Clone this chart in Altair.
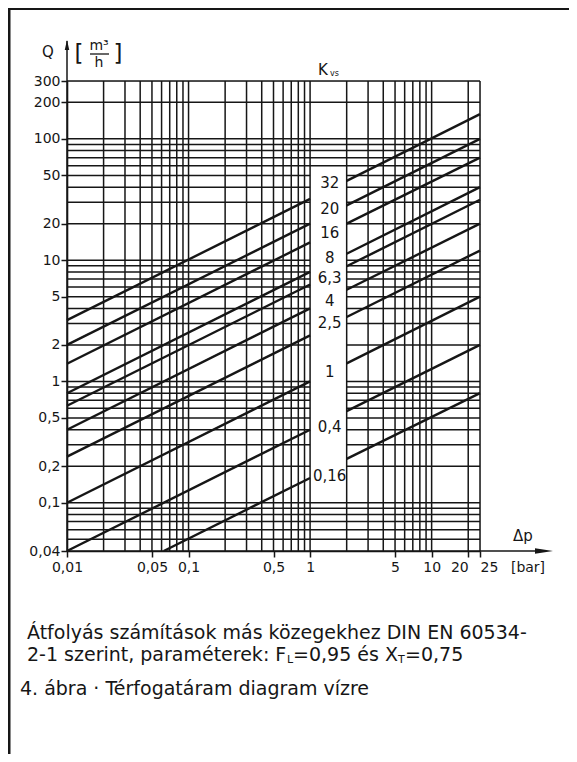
import altair as alt
import pandas as pd

FONT = "DejaVu Sans"
INK = "#161616"

# ---- data ----
kvs_labels = ["32", "20", "16", "8", "6,3", "4", "2,5", "1", "0,4", "0,16"]
dp_left_start = [0.01, 0.01, 0.01, 0.01, 0.01, 0.01, 0.01, 0.01, 0.01, 0.0625]
q_left_start = [3.2, 2.0, 1.4, 0.8, 0.63, 0.4, 0.24, 0.1, 0.04, 0.04]
dp_left_end = [1, 1, 1, 1, 1, 1, 1, 1, 1, 1]
q_left_end = [32, 20, 14, 8, 6.3, 4, 2.4, 1, 0.4, 0.16]
dp_right_start = [2, 2, 2, 2, 2, 2, 2, 2, 2, 2]
q_right_start = [45, 28.3, 20, 11.3, 8.9, 5.7, 3.4, 1.41, 0.57, 0.23]
dp_right_end = [25, 25, 25, 25, 25, 25, 25, 25, 25, 25]
q_right_end = [160, 100, 70, 40, 31.5, 20, 12, 5, 2, 0.8]
label_dp = [1.45] * 10
label_q = [43.3, 26.4, 16.7, 10.4, 7.1, 4.6, 3.03, 1.2, 0.42, 0.166]

x_grid = [0.01, 0.02, 0.03, 0.04, 0.05, 0.06, 0.07, 0.08, 0.09,
          0.1, 0.2, 0.3, 0.4, 0.5, 0.6, 0.7, 0.8, 0.9,
          1, 2, 3, 4, 5, 6, 7, 8, 9, 10, 20, 25]
y_grid = [0.04, 0.05, 0.06, 0.07, 0.08, 0.09,
          0.1, 0.2, 0.3, 0.4, 0.5, 0.6, 0.7, 0.8, 0.9,
          1, 2, 3, 4, 5, 6, 7, 8, 9,
          10, 20, 30, 40, 50, 60, 70, 80, 90,
          100, 200, 300]
x_ticks = [0.01, 0.05, 0.1, 0.5, 1, 5, 10, 20, 25]
y_ticks = [0.04, 0.1, 0.2, 0.5, 1, 2, 5, 10, 20, 50, 100, 200, 300]
x_domain = [0.01, 25]
y_domain = [0.04, 300]
band_dp = [1, 2]          # blank label band between these pressures
band_q = [0.1, 60]        # ... and between these flows (exclusive)

# ---- tables ----
rows = []
for i, k in enumerate(kvs_labels):
    rows.append({"k": k, "seg": k + "a", "o": 0, "dp": dp_left_start[i], "q": q_left_start[i]})
    rows.append({"k": k, "seg": k + "a", "o": 1, "dp": dp_left_end[i], "q": q_left_end[i]})
    rows.append({"k": k, "seg": k + "b", "o": 0, "dp": dp_right_start[i], "q": q_right_start[i]})
    rows.append({"k": k, "seg": k + "b", "o": 1, "dp": dp_right_end[i], "q": q_right_end[i]})
lines_df = pd.DataFrame(rows)

h_rows = []
for q in y_grid:
    if band_q[0] < q < band_q[1]:
        h_rows.append({"q": q, "x1": x_domain[0], "x2": band_dp[0]})
        h_rows.append({"q": q, "x1": band_dp[1], "x2": x_domain[1]})
    else:
        h_rows.append({"q": q, "x1": x_domain[0], "x2": x_domain[1]})
h_df = pd.DataFrame(h_rows)
v_df = pd.DataFrame({"dp": x_grid, "y1": [y_domain[0]] * len(x_grid), "y2": [y_domain[1]] * len(x_grid)})
lab_df = pd.DataFrame({"dp": label_dp, "q": label_q, "t": kvs_labels})

xs = alt.Scale(type="log", domain=x_domain, nice=False, zero=False)
ys = alt.Scale(type="log", domain=y_domain, nice=False, zero=False)

x_axis = alt.Axis(values=x_ticks, format="~g", labelExpr="replace(datum.label, '.', ',')",
                  grid=False, domain=True, domainColor=INK, domainWidth=1.6,
                  ticks=True, tickSize=6, tickColor=INK, tickWidth=1.5,
                  labelFont=FONT, labelFontSize=14, labelColor=INK, labelPadding=3,
                  labelFlush=False, labelOverlap=False, title=None,
                  labelAlign={"condition": [{"test": "datum.value == 20", "value": "right"},
                                            {"test": "datum.value == 25", "value": "left"}],
                              "value": "center"})
y_axis = alt.Axis(values=y_ticks, format="~g", labelExpr="replace(datum.label, '.', ',')",
                  grid=False, domain=True, domainColor=INK, domainWidth=1.6,
                  ticks=True, tickSize=6, tickColor=INK, tickWidth=1.5,
                  labelFont=FONT, labelFontSize=14, labelColor=INK, labelPadding=1,
                  labelFlush=False, labelOverlap=False, title=None)

hgrid = alt.Chart(h_df).mark_rule(color=INK, strokeWidth=1.5).encode(
    x=alt.X("x1:Q", scale=xs, axis=x_axis), x2="x2:Q",
    y=alt.Y("q:Q", scale=ys, axis=y_axis))
vgrid = alt.Chart(v_df).mark_rule(color=INK, strokeWidth=1.5).encode(
    x=alt.X("dp:Q", scale=xs, axis=x_axis),
    y=alt.Y("y1:Q", scale=ys, axis=y_axis), y2="y2:Q")
klines = alt.Chart(lines_df).mark_line(color=INK, strokeWidth=2.4).encode(
    x=alt.X("dp:Q", scale=xs, axis=x_axis),
    y=alt.Y("q:Q", scale=ys, axis=y_axis),
    detail="seg:N", order="o:Q")
klabels = alt.Chart(lab_df).mark_text(font=FONT, fontSize=15, color=INK).encode(
    x=alt.X("dp:Q", scale=xs, axis=x_axis),
    y=alt.Y("q:Q", scale=ys, axis=y_axis), text="t:N")

one = pd.DataFrame({"a": [0]})


def txt(s, x, y, size=14, align="center", baseline="middle"):
    return alt.Chart(one).mark_text(text=s, fontSize=size, align=align, baseline=baseline,
                                    font=FONT, color=INK).encode(x=alt.value(x), y=alt.value(y))


def rule(x, y, x2=None, y2=None, w=1.5):
    enc = {"x": alt.value(x), "y": alt.value(y)}
    if x2 is not None:
        enc["x2"] = alt.value(x2)
    if y2 is not None:
        enc["y2"] = alt.value(y2)
    return alt.Chart(one).mark_rule(color=INK, strokeWidth=w).encode(**enc)


def arrow(x, y, path, size):
    return alt.Chart(one).mark_point(shape=path, filled=True, color=INK, opacity=1,
                                     size=size, strokeWidth=0).encode(x=alt.value(x), y=alt.value(y))


FS = 19
deco = [
    rule(0, 0, y2=-40),                                  # Q-axis extension
    arrow(0, -36, "M0,-1L0.45,1L-0.45,1Z", 100),
    rule(413, 470, x2=478),                              # Δp-axis extension
    arrow(477, 470, "M1,0L-1,-0.3L-1,0.3Z", 324),
    txt("Q", -19, -29, 15),
    txt("[", 12, -27, 23),
    txt("m³", 32, -35, 14),
    rule(23, -27, x2=42, w=1.3),
    txt("h", 32, -18, 14),
    txt("]", 51, -27, 23),
    txt("K", 256, -11, 15),
    txt("vs", 263, -5, 8, align="left", baseline="alphabetic"),
    txt("Δp", 456, 455, 15),
    txt("[bar]", 461, 487, 14),
    rule(-58, -80, y2=700, w=3),                          # page frame left
    rule(-60, -72, x2=520, w=2),                          # page frame top
    txt("Átfolyás számítások más közegekhez DIN EN 60534-", -40, 552, FS, align="left"),
    txt("2-1 szerint, paraméterek: F", -40, 574, FS, align="left"),
    txt("L", 220, 579, 11, align="left"),
    txt("=0,95 és X", 226, 574, FS, align="left"),
    txt("T", 331, 579, 11, align="left"),
    txt("=0,75", 338, 574, FS, align="left"),
    txt("4. ábra · Térfogatáram diagram vízre", -47, 608, FS, align="left"),
]

chart = alt.layer(hgrid, vgrid, klines, klabels, *deco).properties(
    width=413, height=470,
    autosize=alt.AutoSizeParams(type="none"),
    padding={"left": 59, "top": 73, "right": 89, "bottom": 203},
).configure_view(stroke=None).configure(background="white")

chart.save("out.html", embed_options={"renderer": "svg", "actions": False})
